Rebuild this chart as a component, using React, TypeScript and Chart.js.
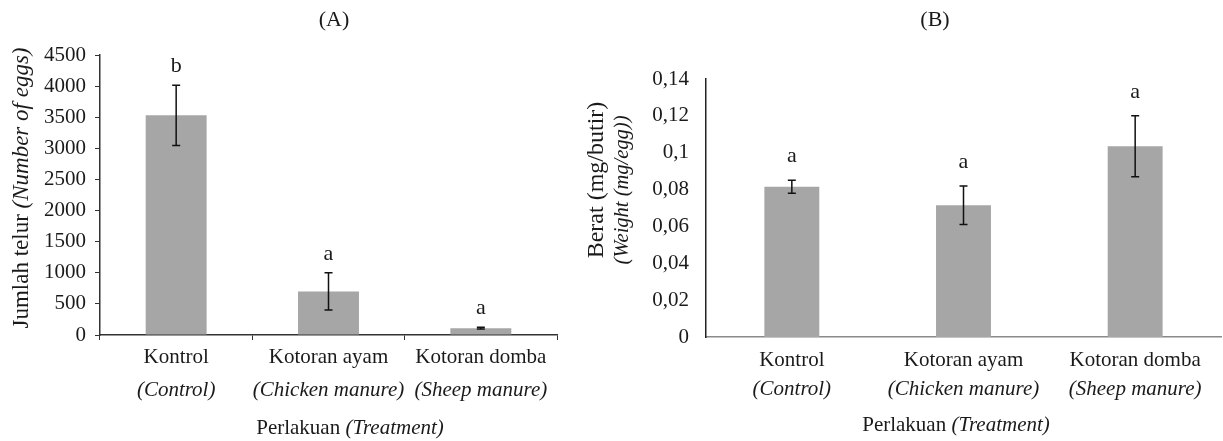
import React, { useEffect, useRef } from "react";
import { Chart, registerables } from "chart.js";

Chart.register(...registerables);

const categories = ["Kontrol", "Kotoran ayam", "Kotoran domba"];
const categoriesEn = ["(Control)", "(Chicken manure)", "(Sheep manure)"];

const eggCounts = [3530, 700, 110];
const eggErrors = [485, 300, 15];
const eggLetters = ["b", "a", "a"];
const eggTicks = [0, 500, 1000, 1500, 2000, 2500, 3000, 3500, 4000, 4500];

const eggWeights = [0.0815, 0.0715, 0.1035];
const weightErrors = [0.0035, 0.0105, 0.0165];
const weightLetters = ["a", "a", "a"];
const weightTicks = [0, 0.02, 0.04, 0.06, 0.08, 0.1, 0.12, 0.14];

const SERIF = "'Liberation Serif', 'Times New Roman', serif";
const BAR = "#a6a6a6";

type Seg = { t: string; italic?: boolean };

function drawSegs(ctx: CanvasRenderingContext2D, segs: Seg[], cx: number, y: number, size: number) {
  const fontOf = (s: Seg) => `${s.italic ? "italic " : ""}${size}px ${SERIF}`;
  let total = 0;
  const widths = segs.map((s) => {
    ctx.font = fontOf(s);
    const w = ctx.measureText(s.t).width;
    total += w;
    return w;
  });
  let x = cx - total / 2;
  ctx.textAlign = "left";
  segs.forEach((s, i) => {
    ctx.font = fontOf(s);
    ctx.fillText(s.t, x, y);
    x += widths[i];
  });
}

function makeOverlay(opts: {
  errors: number[];
  letters: string[];
  letterGap: number;
  capW: number;
  labelY1: number;
  labelY2: number;
  titleY: number;
  titleX: number;
  panel: string;
  panelX: number;
  yTitle: { segs: Seg[]; x: number; y: number; size: number }[];
  errColor: string;
}) {
  return {
    id: "overlay",
    afterDatasetsDraw(chart: any) {
      const ctx: CanvasRenderingContext2D = chart.ctx;
      const xs = chart.scales.x;
      const ys = chart.scales.y;
      const data = chart.data.datasets[0].data as number[];
      ctx.save();
      ctx.fillStyle = "#1a1a1a";
      ctx.textBaseline = "alphabetic";
      data.forEach((v, i) => {
        const x = xs.getPixelForValue(i);
        const yt = ys.getPixelForValue(v + opts.errors[i]);
        const yb = ys.getPixelForValue(v - opts.errors[i]);
        ctx.strokeStyle = opts.errColor;
        ctx.lineWidth = 1.5;
        ctx.beginPath();
        ctx.moveTo(x, yt);
        ctx.lineTo(x, yb);
        ctx.moveTo(x - opts.capW, yt);
        ctx.lineTo(x + opts.capW, yt);
        ctx.moveTo(x - opts.capW, yb);
        ctx.lineTo(x + opts.capW, yb);
        ctx.stroke();
        ctx.font = `22px ${SERIF}`;
        ctx.textAlign = "center";
        ctx.fillText(opts.letters[i], x, yt - opts.letterGap);
        drawSegs(ctx, [{ t: categories[i] }], x, opts.labelY1, 21);
        drawSegs(ctx, [{ t: categoriesEn[i], italic: true }], x, opts.labelY2, 21);
      });
      drawSegs(ctx, [{ t: "Perlakuan " }, { t: "(Treatment)", italic: true }], opts.titleX, opts.titleY, 21);
      ctx.font = `22px ${SERIF}`;
      ctx.textAlign = "center";
      ctx.fillText(opts.panel, opts.panelX, 26);
      opts.yTitle.forEach((yt) => {
        ctx.save();
        ctx.translate(yt.x, yt.y);
        ctx.rotate(-Math.PI / 2);
        drawSegs(ctx, yt.segs, 0, 0, yt.size);
        ctx.restore();
      });
      ctx.restore();
    },
  };
}

export default function App() {
  const refA = useRef<HTMLCanvasElement>(null);
  const refB = useRef<HTMLCanvasElement>(null);

  useEffect(() => {
    const chartA = new Chart(refA.current as HTMLCanvasElement, {
      type: "bar",
      data: {
        labels: categories,
        datasets: [{ data: eggCounts, backgroundColor: BAR, barPercentage: 0.4, categoryPercentage: 1 }],
      },
      options: {
        responsive: false,
        animation: false,
        events: [],
        layout: { padding: { left: 0, right: 13, top: 55, bottom: 0 } },
        plugins: { legend: { display: false }, tooltip: { enabled: false } },
        scales: {
          x: {
            offset: true,
            grid: { display: true, drawOnChartArea: false, drawTicks: true, tickLength: 5, color: "#333", offset: true },
            border: { display: true, color: "#333", width: 1.5 },
            ticks: { display: false },
            afterFit: (s: any) => {
              s.height = 106;
            },
          },
          y: {
            min: 0,
            max: 4500,
            afterBuildTicks: (s: any) => {
              s.ticks = eggTicks.map((v) => ({ value: v }));
            },
            grid: { display: true, drawOnChartArea: false, drawTicks: true, tickLength: 5, color: "#333" },
            border: { display: true, color: "#333", width: 1.5 },
            ticks: {
              color: "#1a1a1a",
              padding: 9,
              font: { family: SERIF, size: 21 },
              callback: (v: any) => String(v),
            },
            afterFit: (s: any) => {
              s.width = 100;
            },
          },
        },
      },
      plugins: [
        makeOverlay({
          errors: eggErrors,
          letters: eggLetters,
          letterGap: 13,
          capW: 4,
          labelY1: 363,
          labelY2: 396,
          titleY: 434,
          titleX: 350,
          panel: "(A)",
          panelX: 334,
          yTitle: [
            { segs: [{ t: "Jumlah telur " }, { t: "(Number of eggs)", italic: true }], x: 28, y: 188, size: 23 },
          ],
          errColor: "#111",
        }) as any,
      ],
    });

    const chartB = new Chart(refB.current as HTMLCanvasElement, {
      type: "bar",
      data: {
        labels: categories,
        datasets: [{ data: eggWeights, backgroundColor: BAR, barPercentage: 0.32, categoryPercentage: 1 }],
      },
      options: {
        responsive: false,
        animation: false,
        events: [],
        layout: { padding: { left: 0, right: 2, top: 79, bottom: 0 } },
        plugins: { legend: { display: false }, tooltip: { enabled: false } },
        scales: {
          x: {
            offset: true,
            grid: { display: false },
            border: { display: true, color: "#8a8a8a", width: 1.5 },
            ticks: { display: false },
            afterFit: (s: any) => {
              s.height = 104;
            },
          },
          y: {
            min: 0,
            max: 0.14,
            afterBuildTicks: (s: any) => {
              s.ticks = weightTicks.map((v) => ({ value: v }));
            },
            grid: { display: false, drawTicks: false },
            border: { display: true, color: "#222", width: 1.5 },
            ticks: {
              color: "#1a1a1a",
              padding: 17,
              font: { family: SERIF, size: 21 },
              callback: (v: any) => String(Math.round(Number(v) * 100) / 100).replace(".", ","),
            },
            afterFit: (s: any) => {
              s.width = 136;
            },
          },
        },
      },
      plugins: [
        makeOverlay({
          errors: weightErrors,
          letters: weightLetters,
          letterGap: 18,
          capW: 4,
          labelY1: 366,
          labelY2: 395,
          titleY: 431,
          titleX: 386,
          panel: "(B)",
          panelX: 365,
          yTitle: [
            { segs: [{ t: "Berat (mg/butir)" }], x: 33, y: 180, size: 24 },
            { segs: [{ t: "(Weight (mg/egg))", italic: true }], x: 58, y: 190, size: 20.5 },
          ],
          errColor: "#111",
        }) as any,
      ],
    });

    return () => {
      chartA.destroy();
      chartB.destroy();
    };
  }, []);

  return (
    <div style={{ position: "absolute", left: 0, top: 0, width: 1223, height: 441, background: "#fff" }}>
      <canvas ref={refA} width={570} height={441} style={{ position: "absolute", left: 0, top: 0 }} />
      <canvas ref={refB} width={653} height={441} style={{ position: "absolute", left: 570, top: 0 }} />
    </div>
  );
}
